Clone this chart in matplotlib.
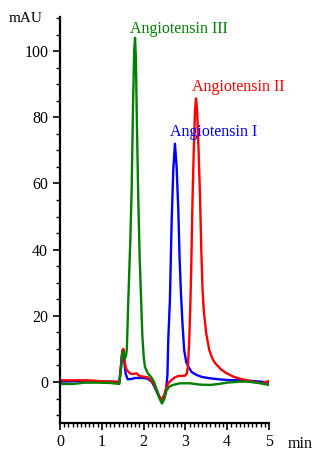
import matplotlib
matplotlib.use("Agg")
import matplotlib.pyplot as plt
from matplotlib.ticker import MultipleLocator

plt.rcParams["font.family"] = ["Liberation Serif", "DejaVu Serif"]

# Angiotensin I (blue)
t_ang1 = [0, 0.3, 0.6, 0.9, 1.2, 1.42, 1.46, 1.49, 1.515, 1.54, 1.57, 1.62, 1.7, 1.8,
          2.0, 2.1, 2.2, 2.3, 2.38, 2.44, 2.5, 2.54, 2.57, 2.59, 2.63, 2.67, 2.71,
          2.75, 2.79, 2.83, 2.86, 2.89, 2.93, 2.97, 3.02, 3.07, 3.15, 3.27, 3.4,
          3.59, 3.8, 4.0, 4.3, 4.6, 4.8, 5.0]
v_ang1 = [0.1, 0.2, 0.4, 0.2, 0.1, 0, 5, 9, 9.8, 6, 2.5, 0.8, 0.9, 1.2,
          1.2, 1.0, 0, -2.5, -4.8, -5.4, -3.8, -2, 2, 12.7, 25, 48, 64,
          72, 65, 52, 38, 27.8, 17.7, 9.7, 6, 4.6, 3, 2.1, 1.5,
          1.1, 0.8, 0.6, 0.5, 0.3, 0.1, -0.2]

# Angiotensin II (red)
t_ang2 = [0, 0.3, 0.6, 0.8, 1.0, 1.2, 1.42, 1.46, 1.49, 1.515, 1.54, 1.57, 1.6, 1.67,
          1.75, 1.83, 1.9, 2.0, 2.1, 2.2, 2.3, 2.37, 2.43, 2.5, 2.55, 2.6, 2.67,
          2.75, 2.83, 2.99, 3.03, 3.06, 3.09, 3.12, 3.14, 3.17, 3.2, 3.23, 3.255,
          3.28, 3.31, 3.35, 3.38, 3.41, 3.44, 3.5, 3.57, 3.64, 3.71, 3.85, 3.99,
          4.15, 4.3, 4.5, 4.7, 4.83, 4.92, 5.0]
v_ang2 = [0.5, 0.5, 0.5, 0.4, 0.2, 0.1, 0, 5, 9.5, 10, 7, 4.5, 3.6, 2.6,
          2.4, 2.6, 1.8, 1.6, 1.4, 0.3, -2, -4.2, -5.4, -4, -1.4, -0.2, 0.6,
          1.4, 1.8, 1.9, 2.5, 4.5, 12, 24, 35, 55, 70, 82, 85.7,
          82, 72, 56, 40, 28, 21.5, 14.5, 9.7, 7.2, 5.7, 3.8, 2.6,
          1.6, 1.0, 0.4, -0.1, -0.4, 0, 0.3]

# Angiotensin III (green)
t_ang3 = [0, 0.3, 0.6, 0.9, 1.2, 1.42, 1.46, 1.49, 1.515, 1.55, 1.58, 1.6, 1.635, 1.68,
          1.714, 1.745, 1.775, 1.795, 1.815, 1.84, 1.873, 1.905, 1.94, 1.97, 2.0,
          2.03, 2.1, 2.18, 2.25, 2.32, 2.38, 2.44, 2.5, 2.55, 2.62, 2.7, 2.87,
          3.11, 3.35, 3.59, 3.8, 4.0, 4.3, 4.5, 4.8, 5.0]
v_ang3 = [-0.6, -0.6, -0.2, -0.2, -0.3, -0.6, 4, 8.5, 9.2, 7, 8, 10, 25, 42,
          58, 82, 100, 104, 98, 78, 55, 38, 25, 14, 8,
          4.6, 2.6, 1.5, 0, -2.5, -5, -6.5, -5, -2.5, -1.4, -0.9, -0.4,
          -0.4, -0.8, -0.9, -0.6, -0.2, 0.1, 0.1, -0.4, -0.9]

fig = plt.figure(figsize=(3.13, 4.51), dpi=100)
ax = fig.add_axes([0.1917, 0.0621, 0.6677, 0.9002])

ax.plot(t_ang1, v_ang1, color="#0000ff", lw=1.7)
ax.plot(t_ang2, v_ang2, color="#ff0000", lw=1.7)
ax.plot(t_ang3, v_ang3, color="#008000", lw=1.7)

ax.text(2.85, 106.8, "Angiotensin III", color="#008000", fontsize=11.5, ha="center", va="center")
ax.text(4.26, 89.0, "Angiotensin II", color="#ff0000", fontsize=11.5, ha="center", va="center")
ax.text(3.68, 75.4, "Angiotensin I", color="#0000ff", fontsize=11.5, ha="center", va="center")

ax.set_xlim(0, 5)
ax.set_ylim(-12.4, 110.3)
ax.spines["top"].set_visible(False)
ax.spines["right"].set_visible(False)
ax.spines["left"].set_linewidth(1.6)
ax.spines["bottom"].set_linewidth(1.6)

ax.xaxis.set_major_locator(MultipleLocator(1))
ax.xaxis.set_minor_locator(MultipleLocator(0.1))
ax.yaxis.set_major_locator(MultipleLocator(20))
ax.yaxis.set_minor_locator(MultipleLocator(5))
ax.tick_params(which="major", length=5, width=1.2, labelsize=11.5)
ax.tick_params(which="minor", length=3, width=1.0)
ax.tick_params(axis="x", pad=3)

fig.text(26 / 313, 1 - 19 / 451, "mAU", fontsize=11, ha="center", va="center")
fig.text(300 / 313, 1 - 444 / 451, "min", fontsize=11.5, ha="center", va="center")

fig.savefig("out.png", dpi=100)
